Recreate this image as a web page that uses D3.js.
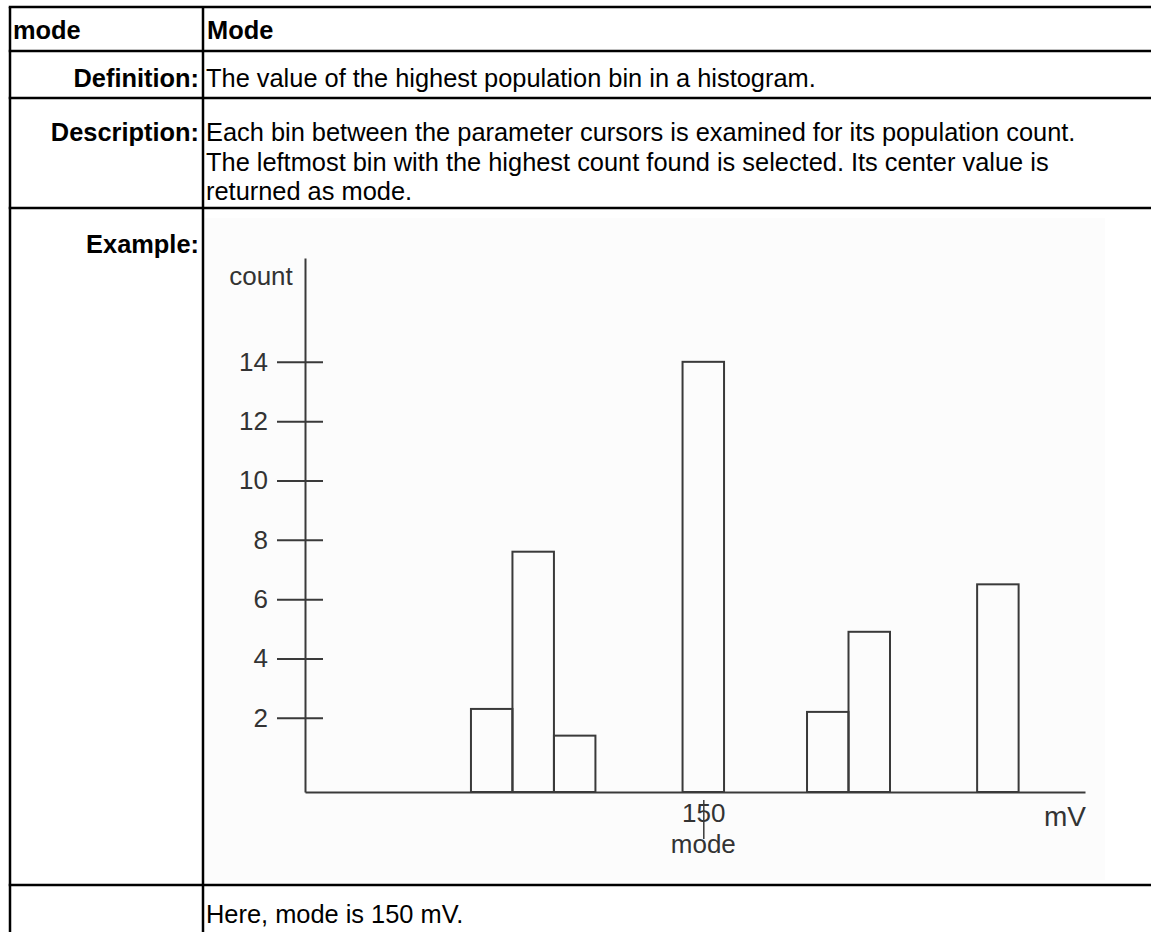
<!DOCTYPE html>
<html>
<head>
<meta charset="utf-8">
<script src="https://cdn.jsdelivr.net/npm/d3@7"></script>
<style>
  html, body { margin: 0; padding: 0; background: #fff; }
  svg { display: block; }
</style>
</head>
<body>
<div id="chart"></div>
<script>
// ---------- data ----------
const binCenters = [99, 109, 119, 150, 180, 190, 221];   // mV
const counts     = [2.3, 7.6, 1.4, 14, 2.2, 4.9, 6.5];
const yTicks     = [2, 4, 6, 8, 10, 12, 14];
const xTickValues = [150];
const xTickLabels = ["150"];
const modeLabel = "mode";
const xUnitLabel = "mV";
const yAxisLabel = "count";

const headerLeft  = "mode";
const headerRight = "Mode";
const rowLabels = ["Definition:", "Description:", "Example:", ""];
const definitionText = ["The value of the highest population bin in a histogram."];
const descriptionText = [
  "Each bin between the parameter cursors is examined for its population count.",
  "The leftmost bin with the highest count found is selected. Its center value is",
  "returned as mode."
];
const footerText = ["Here, mode is 150 mV."];

// ---------- layout ----------
const W = 1151, H = 932;
const svg = d3.select("#chart").append("svg").attr("width", W).attr("height", H);

const font = "'Liberation Sans', Arial, Helvetica, sans-serif";
const fs = 25.4;
const tableLeft = 10, colDiv = 203;
const rowLines = [7, 51, 98, 208, 885];

// chart image background (slightly off-white)
svg.append("rect").attr("x", colDiv + 2).attr("y", 218).attr("width", 900).attr("height", 662)
  .attr("fill", "#fcfcfc");

// table grid
const grid = svg.append("g").attr("stroke", "#000").attr("stroke-width", 2.5);
rowLines.forEach(y => grid.append("line").attr("x1", tableLeft - 1.25).attr("x2", W).attr("y1", y).attr("y2", y));
grid.append("line").attr("x1", tableLeft).attr("x2", tableLeft).attr("y1", rowLines[0]).attr("y2", H);
grid.append("line").attr("x1", colDiv).attr("x2", colDiv).attr("y1", rowLines[0]).attr("y2", H);

const txt = svg.append("g").attr("font-family", font).attr("font-size", fs).attr("fill", "#000");
txt.append("text").attr("x", 13).attr("y", 39).attr("font-weight", "bold").text(headerLeft);
txt.append("text").attr("x", 207).attr("y", 39).attr("font-weight", "bold").text(headerRight);

const labelBaselines = [87, 141, 253, 0];
rowLabels.forEach((l, i) => {
  if (!l) return;
  txt.append("text").attr("x", 199).attr("y", labelBaselines[i]).attr("text-anchor", "end")
    .attr("font-weight", "bold").text(l);
});
definitionText.forEach((t, i) => txt.append("text").attr("x", 206).attr("y", 87 + i * 29.5).text(t));
descriptionText.forEach((t, i) => txt.append("text").attr("x", 206).attr("y", 141 + i * 29.5).text(t));
footerText.forEach((t, i) => txt.append("text").attr("x", 206).attr("y", 923 + i * 29.5).text(t));

// ---------- histogram ----------
const binWidth = 10;
const x = d3.scaleLinear().domain([54, 242]).range([305, 1085]);
const y = d3.scaleLinear().domain([-0.5, 17.5]).range([792, 258]);
const ink = "#3a3a3a";
const cfs = 26;
const chart = svg.append("g");

chart.selectAll("rect.bar").data(binCenters.map((c, i) => ({c, v: counts[i]})))
  .enter().append("rect").attr("class", "bar")
  .attr("x", d => x(d.c - binWidth / 2))
  .attr("width", d => x(d.c + binWidth / 2) - x(d.c - binWidth / 2))
  .attr("y", d => y(d.v))
  .attr("height", d => y(-0.5) - y(d.v))
  .attr("fill", "none").attr("stroke", ink).attr("stroke-width", 2);

// y axis
const yAxis = d3.axisLeft(y).tickValues(yTicks).tickSize(28).tickSizeOuter(0).tickPadding(9);
const gy = chart.append("g").attr("transform", `translate(${x.range()[0]},0)`).call(yAxis);
gy.select(".domain").attr("stroke", ink).attr("stroke-width", 2);
gy.selectAll(".tick line").attr("x1", 18).attr("stroke", ink).attr("stroke-width", 2);
gy.selectAll(".tick text").attr("font-family", font).attr("font-size", cfs).attr("fill", "#333");

// x axis
const xAxis = d3.axisBottom(x).tickValues(xTickValues).tickFormat((d, i) => xTickLabels[i])
  .tickSize(0).tickSizeOuter(0).tickPadding(12);
const gx = chart.append("g").attr("transform", `translate(0,${y(-0.5)})`).call(xAxis);
gx.select(".domain").attr("stroke", ink).attr("stroke-width", 2);
gx.selectAll(".tick text").attr("font-family", font).attr("font-size", cfs).attr("fill", "#333");
// small mark through the "5" and touching the "o" below
gx.selectAll(".tick").append("line").attr("y1", 8).attr("y2", 47).attr("stroke", ink).attr("stroke-width", 1.5);

chart.append("text").attr("x", x(150)).attr("y", y(-0.5) + 61).attr("text-anchor", "middle")
  .attr("font-family", font).attr("font-size", cfs).attr("fill", "#333").text(modeLabel);
chart.append("text").attr("x", 1065).attr("y", y(-0.5) + 34).attr("text-anchor", "middle")
  .attr("font-family", font).attr("font-size", 28).attr("fill", "#333").text(xUnitLabel);
chart.append("text").attr("x", 261).attr("y", 285).attr("text-anchor", "middle")
  .attr("font-family", font).attr("font-size", cfs).attr("fill", "#333").text(yAxisLabel);
</script>
</body>
</html>
